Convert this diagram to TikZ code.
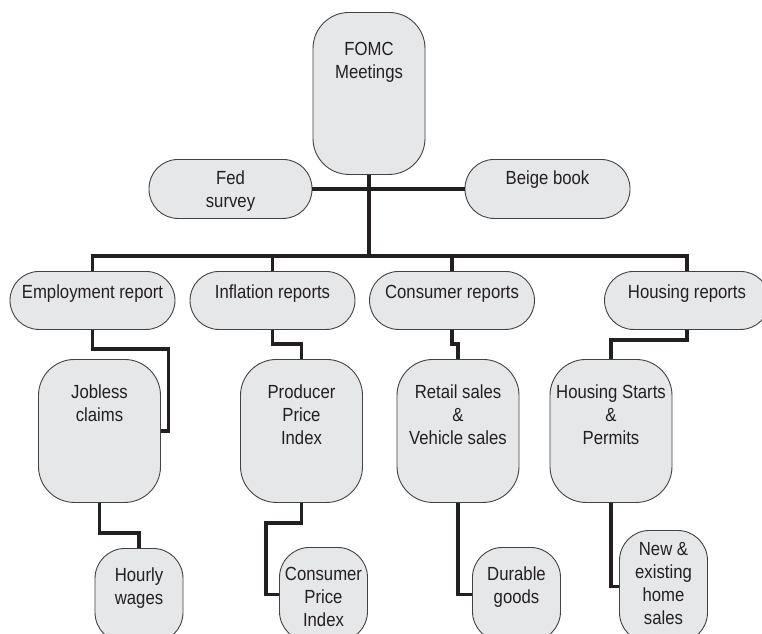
\documentclass[tikz,border=0pt]{standalone}
\usepackage{fontspec}
\setmainfont{Liberation Sans}[FakeStretch=0.88]
\definecolor{boxgray}{RGB}{230,231,232}
\definecolor{ink}{RGB}{35,31,32}

\begin{document}
\begin{tikzpicture}[x=1pt,y=-1pt,
  box/.style={draw=ink!85,line width=0.9pt,fill=boxgray,align=center,inner sep=0pt,
    anchor=north,text=ink,font=\fontsize{19}{23}\selectfont},
  pill/.style={box,rounded corners=29pt,minimum width=165pt,text height=27pt,text depth=31pt},
  panel/.style={box,rounded corners=36pt,minimum width=122pt,text height=85pt,text depth=58pt},
  tab/.style={box,rounded corners=30pt,minimum width=88pt,text height=56pt,text depth=38pt},
  link/.style={draw=ink,line width=3.2pt}]
\useasboundingbox (0,0) rectangle (762,633);
\clip (0,0) rectangle (762,633);

\node[box,rounded corners=36pt,minimum width=112pt,text height=66pt,text depth=96pt]
  (fomc) at (369,12) {FOMC\\Meetings};
\node[pill,minimum width=163pt,text height=48pt,text depth=11pt] (fed) at (230.5,159) {Fed\\survey};
\node[pill,text height=25pt,text depth=34pt] (beige) at (547.5,159) {Beige book};
\coordinate (bus) at (369,256);

\node[pill] (emp)  at (92.5,271) {Employment report};
\node[pill] (infl) at (272.5,271) {Inflation reports};
\node[pill] (cons) at (452,271) {Consumer reports};
\node[pill] (hous) at (687,271) {Housing reports};

\node[panel,text height=62pt,text depth=81pt] (jobless) at (99.5,359) {Jobless\\claims};
\node[panel] (producer) at (301.5,359) {Producer\\Price\\Index};
\node[panel] (retail)   at (458,359) {Retail sales\\\&\\Vehicle sales};
\node[panel] (hstarts)  at (611,359) {Housing Starts\\\&\\Permits};

\node[tab] (hourly)  at (139,548) {Hourly\\wages};
\node[tab,text height=79pt,text depth=15pt] (cpi) at (323.5,547) {Consumer\\Price\\Index};
\node[tab] (durable) at (516.5,547) {Durable\\goods};
\node[tab,text height=94pt,text depth=18pt] (newhome) at (663.5,530) {New \&\\existing\\home\\sales};

\draw[link] (fomc.south) -- (bus);
\draw[link] (fed.east) -- (beige.west);
\foreach \n in {emp,infl,cons,hous}
  \draw[link] (\n.north) |- (bus);

\draw[link] (emp.south) |- ++(76,19) |- (jobless.east);
\draw[link] (jobless.south) -- ++(0,30) -| (hourly.north);
\draw[link] (infl.south) -- ++(0,14) -| (producer.north);
\draw[link] (producer.south) -- ++(0,20) -| ([xshift=-13pt]cpi.west) -- (cpi.west);
\draw[link] (cons.south) -- ++(0,14) -| (retail.north);
\draw[link] (retail.south) |- (durable.west);
\draw[link] (hous.south) -- ++(0,10) -| (hstarts.north);
\draw[link] (hstarts.south) |- (newhome.west);
\end{tikzpicture}
\end{document}
